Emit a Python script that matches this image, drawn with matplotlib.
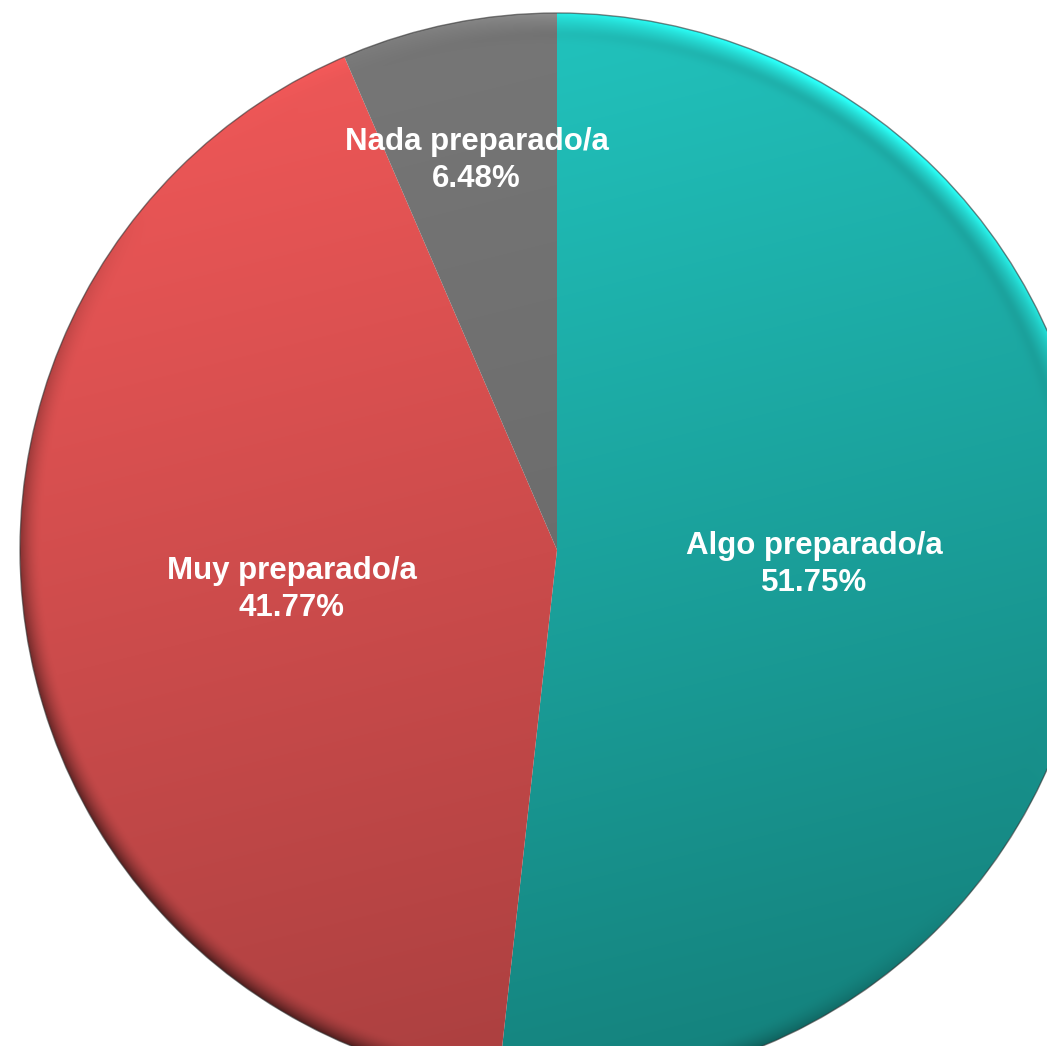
import numpy as np
import matplotlib.pyplot as plt
from matplotlib.colors import to_rgb
from matplotlib.patches import Circle

labels = ["Algo preparado/a", "Muy preparado/a", "Nada preparado/a"]
values = [51.75, 41.77, 6.48]
top_colors = ["#22c6c0", "#f05858", "#777777"]
bottom_colors = ["#14807b", "#a63e3e", "#626262"]
label_dist = [0.48, 0.50, 0.74]

fig = plt.figure(figsize=(10.47, 10.46), dpi=100)
ax = fig.add_axes([0, 0, 1, 1])
wedges, _ = ax.pie(values, startangle=90, counterclock=False, radius=1,
                   wedgeprops=dict(linewidth=0, facecolor="none"))

# pie is bigger than the canvas: centre at (557, 550) px, radius 537 px
xlim = (-557 / 537, 490 / 537)
ylim = (-496 / 537, 550 / 537)
ax.set_xlim(*xlim)
ax.set_ylim(*ylim)
ax.set_aspect("equal", adjustable="datalim")
ax.axis("off")

# shading grid: vertical gradient plus a lit rim (light from top right)
n = 900
xs = np.linspace(-1.0, 1.0, n)
X, Y = np.meshgrid(xs, xs)
R = np.hypot(X, Y) + 1e-9
t = np.clip((Y - 0.25 * X + 1.1) / 2.2, 0, 1)[..., None]
light = np.array([np.cos(np.radians(50)), np.sin(np.radians(50))])
s = (X / R) * light[0] + (Y / R) * light[1]
rim = np.clip((R - 0.96) / 0.04, 0, 1) ** 1.8
band = np.exp(-((R - 0.96) / 0.012) ** 2) * 0.06
lit = np.clip(s, 0, 1) ** 3
factor = np.where(s > 0, 1 + 0.45 * lit * rim, 1 + 0.55 * s * rim) - band * lit
factor = factor[..., None]

for w, c_top, c_bot in zip(wedges, top_colors, bottom_colors):
    top = np.array(to_rgb(c_top))
    bot = np.array(to_rgb(c_bot))
    img = np.clip((bot + (top - bot) * t) * factor, 0, 1)
    im = ax.imshow(img, extent=(-1, 1, -1, 1), origin="lower",
                   interpolation="bilinear", zorder=1)
    im.set_clip_path(w)

ax.add_patch(Circle((0, 0), 1, fill=False, edgecolor="#333333",
                    linewidth=1.0, alpha=0.6, zorder=3))

for w, lab, val, d in zip(wedges, labels, values, label_dist):
    ang = np.radians((w.theta1 + w.theta2) / 2)
    ax.text(d * np.cos(ang), d * np.sin(ang), f"{lab}\n{val:.2f}%",
            ha="center", va="center", color="white", fontsize=22.5,
            fontweight="bold", family=["Liberation Sans", "DejaVu Sans"],
            linespacing=1.3, zorder=4)

ax.set_xlim(*xlim)
ax.set_ylim(*ylim)
fig.savefig("out.png", dpi=100)
